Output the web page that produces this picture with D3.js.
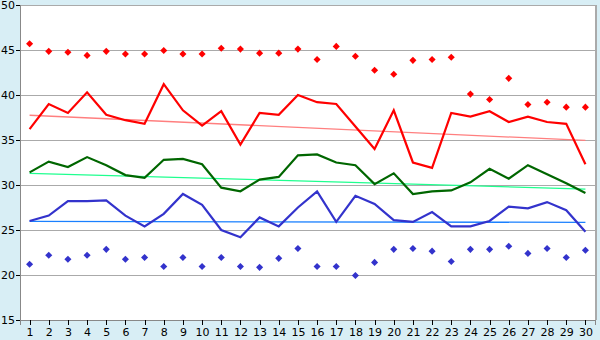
<!DOCTYPE html>
<html>
<head>
<meta charset="utf-8">
<script src="https://cdn.jsdelivr.net/npm/d3@7"></script>
<style>
  body { margin: 0; background: #d8eef5; }
  svg { display: block; }
  .axis text { font-family: "DejaVu Sans", sans-serif; font-size: 11px; fill: #000; }
</style>
</head>
<body>
<div id="chart"></div>
<script>
var days = d3.range(1, 31);
var yTicks = [15, 20, 25, 30, 35, 40, 45, 50];

var redLine = [36.2, 39.0, 38.0, 40.3, 37.8, 37.2, 36.8, 41.2, 38.3, 36.6,
               38.2, 34.5, 38.0, 37.8, 40.0, 39.2, 39.0, 36.5, 34.0, 38.3,
               32.5, 31.9, 38.0, 37.6, 38.2, 37.0, 37.6, 37.0, 36.8, 32.3];
var greenLine = [31.4, 32.6, 32.0, 33.1, 32.2, 31.1, 30.8, 32.8, 32.9, 32.3,
                 29.7, 29.3, 30.6, 30.9, 33.3, 33.4, 32.5, 32.2, 30.1, 31.3,
                 29.0, 29.3, 29.4, 30.3, 31.8, 30.7, 32.2, 31.2, 30.2, 29.1];
var blueLine = [26.0, 26.6, 28.2, 28.2, 28.3, 26.6, 25.4, 26.8, 29.0, 27.8,
                25.0, 24.2, 26.4, 25.4, 27.5, 29.3, 25.9, 28.8, 27.9, 26.1,
                25.9, 27.0, 25.4, 25.4, 26.0, 27.6, 27.4, 28.1, 27.2, 24.8];
var redDots = [45.7, 44.85, 44.75, 44.4, 44.85, 44.55, 44.55, 44.95, 44.55, 44.55,
               45.2, 45.1, 44.65, 44.65, 45.1, 43.95, 45.4, 44.3, 42.75, 42.3,
               43.85, 43.95, 44.2, 40.1, 39.5, 41.85, 38.95, 39.2, 38.65, 38.65];
var blueDots = [21.2, 22.2, 21.75, 22.2, 22.85, 21.75, 21.95, 20.95, 21.95, 20.95,
                21.95, 20.95, 20.85, 21.85, 22.95, 20.95, 20.95, 19.95, 21.4, 22.85,
                22.95, 22.65, 21.5, 22.85, 22.85, 23.2, 22.4, 22.95, 21.95, 22.75];
// trend lines: value at day 1 and day 30
var redTrend = [37.75, 34.95];
var greenTrend = [31.3, 29.55];
var blueTrend = [25.95, 25.85];

var W = 600, H = 340;
var margin = {top: 5, right: 5, bottom: 20, left: 20};
var width = W - margin.left - margin.right,
    height = H - margin.top - margin.bottom;

var svg = d3.select("#chart").append("svg").attr("width", W).attr("height", H);
var g = svg.append("g").attr("transform", "translate(" + margin.left + "," + margin.top + ")");

var x = d3.scalePoint().domain(days).range([0, width]).padding(0.5);
var y = d3.scaleLinear().domain([15, 50]).range([height, 0]);

g.append("rect").attr("width", width).attr("height", height).attr("fill", "#fff");

// grid
g.selectAll(".grid").data(yTicks).enter().append("line")
  .attr("x1", 0).attr("x2", width)
  .attr("y1", function(d) { return y(d) + 0.5; })
  .attr("y2", function(d) { return y(d) + 0.5; })
  .attr("stroke", "#aaa")
  .attr("shape-rendering", "crispEdges");
g.append("line").attr("x1", width + 0.5).attr("x2", width + 0.5)
  .attr("y1", 0).attr("y2", height).attr("stroke", "#aaa").attr("stroke-width", 2)
  .attr("shape-rendering", "crispEdges");

var yAxis = g.append("g").attr("class", "axis")
  .call(d3.axisLeft(y).tickValues(yTicks).tickSize(4).tickPadding(1));
var xAxis = g.append("g").attr("class", "axis")
  .attr("transform", "translate(0," + height + ")")
  .call(d3.axisBottom(x).tickSize(5).tickPadding(3));
g.selectAll(".axis .domain").attr("stroke", "#888").attr("shape-rendering", "crispEdges");
g.selectAll(".axis .tick line").attr("stroke", "#000").attr("shape-rendering", "crispEdges");

// trend lines
[[redTrend, "#ff7f7f"], [greenTrend, "#1fff8f"], [blueTrend, "#1a80ff"]].forEach(function(t) {
  g.append("line")
    .attr("x1", x(days[0])).attr("x2", x(days[days.length - 1]))
    .attr("y1", y(t[0][0])).attr("y2", y(t[0][1]))
    .attr("stroke", t[1]).attr("stroke-width", 1.3);
});

var line = d3.line()
  .x(function(d, i) { return x(days[i]); })
  .y(function(d) { return y(d); });

[[redLine, "#ff0000"], [greenLine, "#006600"], [blueLine, "#3333cc"]].forEach(function(s) {
  g.append("path").datum(s[0])
    .attr("d", line)
    .attr("fill", "none")
    .attr("stroke", s[1])
    .attr("stroke-width", 2.2)
    .attr("stroke-linejoin", "miter");
});

// diamond markers
var diamond = d3.symbol().type(d3.symbolDiamond2).size(32);
[[redDots, "#ff0000"], [blueDots, "#3333cc"]].forEach(function(s) {
  g.selectAll(null).data(s[0]).enter().append("path")
    .attr("d", diamond)
    .attr("transform", function(d, i) { return "translate(" + x(days[i]) + "," + y(d) + ")"; })
    .attr("fill", s[1]);
});
</script>
</body>
</html>
